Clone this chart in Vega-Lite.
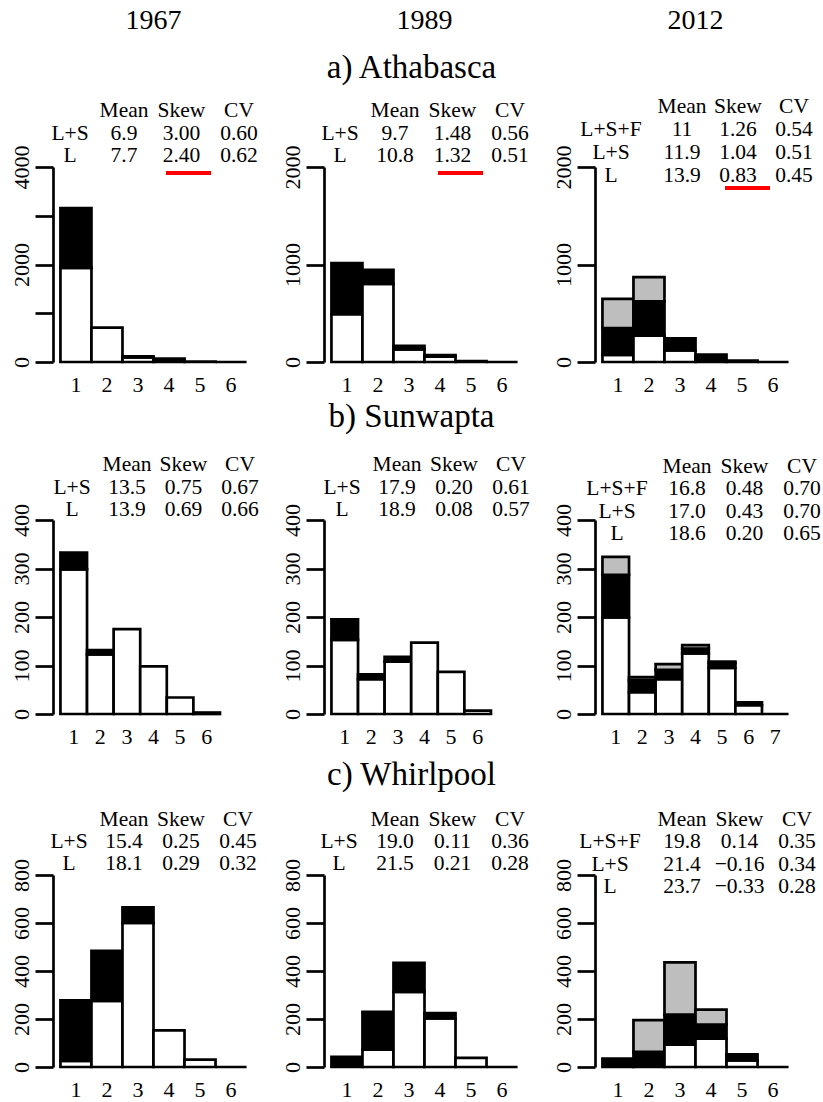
{
  "$schema": "https://vega.github.io/schema/vega-lite/v6.json",
  "padding": {"left": 10, "top": 0, "right": 4, "bottom": 4},
  "background": "white",
  "config": {
    "font": "Liberation Serif",
    "view": {"stroke": null},
    "axis": {"labelFont": "Liberation Serif", "labelFontSize": 22, "labelColor": "black", "domainColor": "black", "tickColor": "black", "domainWidth": 2.7, "tickWidth": 2.7, "grid": false, "labelOverlap": false},
    "axisX": {"domain": false, "ticks": false, "labelPadding": 12, "labelAngle": 0},
    "axisY": {"tickSize": 18, "labelAngle": 270, "labelPadding": 2, "format": "d"},
    "text": {"font": "Liberation Serif", "fontSize": 21.5, "color": "black"}
  },
  "datasets": {
    "blank": [{"t": ""}],
    "skew_mark": [{"row": "L", "col": "Skew"}],
    "bars_a1967": [
      {"bin": 1, "cat": "L", "lvl": 1, "n": 1930}, {"bin": 1, "cat": "S", "lvl": 2, "n": 1225},
      {"bin": 2, "cat": "L", "lvl": 1, "n": 705},
      {"bin": 3, "cat": "L", "lvl": 1, "n": 95}, {"bin": 3, "cat": "S", "lvl": 2, "n": 20},
      {"bin": 4, "cat": "L", "lvl": 1, "n": 40}, {"bin": 4, "cat": "S", "lvl": 2, "n": 30},
      {"bin": 5, "cat": "L", "lvl": 1, "n": 10},
      {"bin": 6, "cat": "L", "lvl": 1, "n": 0}
    ],
    "bars_a1989": [
      {"bin": 1, "cat": "L", "lvl": 1, "n": 490}, {"bin": 1, "cat": "S", "lvl": 2, "n": 525},
      {"bin": 2, "cat": "L", "lvl": 1, "n": 800}, {"bin": 2, "cat": "S", "lvl": 2, "n": 145},
      {"bin": 3, "cat": "L", "lvl": 1, "n": 130}, {"bin": 3, "cat": "S", "lvl": 2, "n": 35},
      {"bin": 4, "cat": "L", "lvl": 1, "n": 55}, {"bin": 4, "cat": "S", "lvl": 2, "n": 15},
      {"bin": 5, "cat": "L", "lvl": 1, "n": 8},
      {"bin": 6, "cat": "L", "lvl": 1, "n": 0}
    ],
    "bars_a2012": [
      {"bin": 1, "cat": "L", "lvl": 1, "n": 72}, {"bin": 1, "cat": "S", "lvl": 2, "n": 276}, {"bin": 1, "cat": "F", "lvl": 3, "n": 299},
      {"bin": 2, "cat": "L", "lvl": 1, "n": 269}, {"bin": 2, "cat": "S", "lvl": 2, "n": 354}, {"bin": 2, "cat": "F", "lvl": 3, "n": 248},
      {"bin": 3, "cat": "L", "lvl": 1, "n": 120}, {"bin": 3, "cat": "S", "lvl": 2, "n": 122},
      {"bin": 4, "cat": "L", "lvl": 1, "n": 12}, {"bin": 4, "cat": "S", "lvl": 2, "n": 65},
      {"bin": 5, "cat": "L", "lvl": 1, "n": 3}, {"bin": 5, "cat": "S", "lvl": 2, "n": 12},
      {"bin": 6, "cat": "L", "lvl": 1, "n": 0}
    ],
    "bars_b1967": [
      {"bin": 1, "cat": "L", "lvl": 1, "n": 298}, {"bin": 1, "cat": "S", "lvl": 2, "n": 35},
      {"bin": 2, "cat": "L", "lvl": 1, "n": 123}, {"bin": 2, "cat": "S", "lvl": 2, "n": 9},
      {"bin": 3, "cat": "L", "lvl": 1, "n": 175},
      {"bin": 4, "cat": "L", "lvl": 1, "n": 98},
      {"bin": 5, "cat": "L", "lvl": 1, "n": 34},
      {"bin": 6, "cat": "L", "lvl": 1, "n": 3}
    ],
    "bars_b1989": [
      {"bin": 1, "cat": "L", "lvl": 1, "n": 153}, {"bin": 1, "cat": "S", "lvl": 2, "n": 42},
      {"bin": 2, "cat": "L", "lvl": 1, "n": 72}, {"bin": 2, "cat": "S", "lvl": 2, "n": 10},
      {"bin": 3, "cat": "L", "lvl": 1, "n": 108}, {"bin": 3, "cat": "S", "lvl": 2, "n": 10},
      {"bin": 4, "cat": "L", "lvl": 1, "n": 147},
      {"bin": 5, "cat": "L", "lvl": 1, "n": 87},
      {"bin": 6, "cat": "L", "lvl": 1, "n": 7}
    ],
    "bars_b2012": [
      {"bin": 1, "cat": "L", "lvl": 1, "n": 199}, {"bin": 1, "cat": "S", "lvl": 2, "n": 88}, {"bin": 1, "cat": "F", "lvl": 3, "n": 37},
      {"bin": 2, "cat": "L", "lvl": 1, "n": 45}, {"bin": 2, "cat": "S", "lvl": 2, "n": 25}, {"bin": 2, "cat": "F", "lvl": 3, "n": 6},
      {"bin": 3, "cat": "L", "lvl": 1, "n": 72}, {"bin": 3, "cat": "S", "lvl": 2, "n": 19}, {"bin": 3, "cat": "F", "lvl": 3, "n": 12},
      {"bin": 4, "cat": "L", "lvl": 1, "n": 125}, {"bin": 4, "cat": "S", "lvl": 2, "n": 10}, {"bin": 4, "cat": "F", "lvl": 3, "n": 7},
      {"bin": 5, "cat": "L", "lvl": 1, "n": 95}, {"bin": 5, "cat": "S", "lvl": 2, "n": 10}, {"bin": 5, "cat": "F", "lvl": 3, "n": 3},
      {"bin": 6, "cat": "L", "lvl": 1, "n": 18}, {"bin": 6, "cat": "S", "lvl": 2, "n": 6},
      {"bin": 7, "cat": "L", "lvl": 1, "n": 0}
    ],
    "bars_c1967": [
      {"bin": 1, "cat": "L", "lvl": 1, "n": 25}, {"bin": 1, "cat": "S", "lvl": 2, "n": 253},
      {"bin": 2, "cat": "L", "lvl": 1, "n": 275}, {"bin": 2, "cat": "S", "lvl": 2, "n": 209},
      {"bin": 3, "cat": "L", "lvl": 1, "n": 600}, {"bin": 3, "cat": "S", "lvl": 2, "n": 65},
      {"bin": 4, "cat": "L", "lvl": 1, "n": 153},
      {"bin": 5, "cat": "L", "lvl": 1, "n": 31},
      {"bin": 6, "cat": "L", "lvl": 1, "n": 0}
    ],
    "bars_c1989": [
      {"bin": 1, "cat": "S", "lvl": 2, "n": 42},
      {"bin": 2, "cat": "L", "lvl": 1, "n": 72}, {"bin": 2, "cat": "S", "lvl": 2, "n": 158},
      {"bin": 3, "cat": "L", "lvl": 1, "n": 313}, {"bin": 3, "cat": "S", "lvl": 2, "n": 121},
      {"bin": 4, "cat": "L", "lvl": 1, "n": 202}, {"bin": 4, "cat": "S", "lvl": 2, "n": 23},
      {"bin": 5, "cat": "L", "lvl": 1, "n": 38},
      {"bin": 6, "cat": "L", "lvl": 1, "n": 0}
    ],
    "bars_c2012": [
      {"bin": 1, "cat": "S", "lvl": 2, "n": 35},
      {"bin": 2, "cat": "L", "lvl": 1, "n": 7}, {"bin": 2, "cat": "S", "lvl": 2, "n": 56}, {"bin": 2, "cat": "F", "lvl": 3, "n": 132},
      {"bin": 3, "cat": "L", "lvl": 1, "n": 93}, {"bin": 3, "cat": "S", "lvl": 2, "n": 125}, {"bin": 3, "cat": "F", "lvl": 3, "n": 218},
      {"bin": 4, "cat": "L", "lvl": 1, "n": 118}, {"bin": 4, "cat": "S", "lvl": 2, "n": 59}, {"bin": 4, "cat": "F", "lvl": 3, "n": 62},
      {"bin": 5, "cat": "L", "lvl": 1, "n": 28}, {"bin": 5, "cat": "S", "lvl": 2, "n": 25},
      {"bin": 6, "cat": "L", "lvl": 1, "n": 0}
    ],
    "tab_a1967": [
      {"row": "head", "col": "Mean", "txt": "Mean"}, {"row": "head", "col": "Skew", "txt": "Skew"}, {"row": "head", "col": "CV", "txt": "CV"},
      {"row": "L+S", "col": "lab", "txt": "L+S"}, {"row": "L+S", "col": "Mean", "txt": "6.9"}, {"row": "L+S", "col": "Skew", "txt": "3.00"}, {"row": "L+S", "col": "CV", "txt": "0.60"},
      {"row": "L", "col": "lab", "txt": "L"}, {"row": "L", "col": "Mean", "txt": "7.7"}, {"row": "L", "col": "Skew", "txt": "2.40"}, {"row": "L", "col": "CV", "txt": "0.62"}
    ],
    "tab_a1989": [
      {"row": "head", "col": "Mean", "txt": "Mean"}, {"row": "head", "col": "Skew", "txt": "Skew"}, {"row": "head", "col": "CV", "txt": "CV"},
      {"row": "L+S", "col": "lab", "txt": "L+S"}, {"row": "L+S", "col": "Mean", "txt": "9.7"}, {"row": "L+S", "col": "Skew", "txt": "1.48"}, {"row": "L+S", "col": "CV", "txt": "0.56"},
      {"row": "L", "col": "lab", "txt": "L"}, {"row": "L", "col": "Mean", "txt": "10.8"}, {"row": "L", "col": "Skew", "txt": "1.32"}, {"row": "L", "col": "CV", "txt": "0.51"}
    ],
    "tab_a2012": [
      {"row": "head", "col": "Mean", "txt": "Mean"}, {"row": "head", "col": "Skew", "txt": "Skew"}, {"row": "head", "col": "CV", "txt": "CV"},
      {"row": "L+S+F", "col": "lab", "txt": "L+S+F"}, {"row": "L+S+F", "col": "Mean", "txt": "11"}, {"row": "L+S+F", "col": "Skew", "txt": "1.26"}, {"row": "L+S+F", "col": "CV", "txt": "0.54"},
      {"row": "L+S", "col": "lab", "txt": "L+S"}, {"row": "L+S", "col": "Mean", "txt": "11.9"}, {"row": "L+S", "col": "Skew", "txt": "1.04"}, {"row": "L+S", "col": "CV", "txt": "0.51"},
      {"row": "L", "col": "lab", "txt": "L"}, {"row": "L", "col": "Mean", "txt": "13.9"}, {"row": "L", "col": "Skew", "txt": "0.83"}, {"row": "L", "col": "CV", "txt": "0.45"}
    ],
    "tab_b1967": [
      {"row": "head", "col": "Mean", "txt": "Mean"}, {"row": "head", "col": "Skew", "txt": "Skew"}, {"row": "head", "col": "CV", "txt": "CV"},
      {"row": "L+S", "col": "lab", "txt": "L+S"}, {"row": "L+S", "col": "Mean", "txt": "13.5"}, {"row": "L+S", "col": "Skew", "txt": "0.75"}, {"row": "L+S", "col": "CV", "txt": "0.67"},
      {"row": "L", "col": "lab", "txt": "L"}, {"row": "L", "col": "Mean", "txt": "13.9"}, {"row": "L", "col": "Skew", "txt": "0.69"}, {"row": "L", "col": "CV", "txt": "0.66"}
    ],
    "tab_b1989": [
      {"row": "head", "col": "Mean", "txt": "Mean"}, {"row": "head", "col": "Skew", "txt": "Skew"}, {"row": "head", "col": "CV", "txt": "CV"},
      {"row": "L+S", "col": "lab", "txt": "L+S"}, {"row": "L+S", "col": "Mean", "txt": "17.9"}, {"row": "L+S", "col": "Skew", "txt": "0.20"}, {"row": "L+S", "col": "CV", "txt": "0.61"},
      {"row": "L", "col": "lab", "txt": "L"}, {"row": "L", "col": "Mean", "txt": "18.9"}, {"row": "L", "col": "Skew", "txt": "0.08"}, {"row": "L", "col": "CV", "txt": "0.57"}
    ],
    "tab_b2012": [
      {"row": "head", "col": "Mean", "txt": "Mean"}, {"row": "head", "col": "Skew", "txt": "Skew"}, {"row": "head", "col": "CV", "txt": "CV"},
      {"row": "L+S+F", "col": "lab", "txt": "L+S+F"}, {"row": "L+S+F", "col": "Mean", "txt": "16.8"}, {"row": "L+S+F", "col": "Skew", "txt": "0.48"}, {"row": "L+S+F", "col": "CV", "txt": "0.70"},
      {"row": "L+S", "col": "lab", "txt": "L+S"}, {"row": "L+S", "col": "Mean", "txt": "17.0"}, {"row": "L+S", "col": "Skew", "txt": "0.43"}, {"row": "L+S", "col": "CV", "txt": "0.70"},
      {"row": "L", "col": "lab", "txt": "L"}, {"row": "L", "col": "Mean", "txt": "18.6"}, {"row": "L", "col": "Skew", "txt": "0.20"}, {"row": "L", "col": "CV", "txt": "0.65"}
    ],
    "tab_c1967": [
      {"row": "head", "col": "Mean", "txt": "Mean"}, {"row": "head", "col": "Skew", "txt": "Skew"}, {"row": "head", "col": "CV", "txt": "CV"},
      {"row": "L+S", "col": "lab", "txt": "L+S"}, {"row": "L+S", "col": "Mean", "txt": "15.4"}, {"row": "L+S", "col": "Skew", "txt": "0.25"}, {"row": "L+S", "col": "CV", "txt": "0.45"},
      {"row": "L", "col": "lab", "txt": "L"}, {"row": "L", "col": "Mean", "txt": "18.1"}, {"row": "L", "col": "Skew", "txt": "0.29"}, {"row": "L", "col": "CV", "txt": "0.32"}
    ],
    "tab_c1989": [
      {"row": "head", "col": "Mean", "txt": "Mean"}, {"row": "head", "col": "Skew", "txt": "Skew"}, {"row": "head", "col": "CV", "txt": "CV"},
      {"row": "L+S", "col": "lab", "txt": "L+S"}, {"row": "L+S", "col": "Mean", "txt": "19.0"}, {"row": "L+S", "col": "Skew", "txt": "0.11"}, {"row": "L+S", "col": "CV", "txt": "0.36"},
      {"row": "L", "col": "lab", "txt": "L"}, {"row": "L", "col": "Mean", "txt": "21.5"}, {"row": "L", "col": "Skew", "txt": "0.21"}, {"row": "L", "col": "CV", "txt": "0.28"}
    ],
    "tab_c2012": [
      {"row": "head", "col": "Mean", "txt": "Mean"}, {"row": "head", "col": "Skew", "txt": "Skew"}, {"row": "head", "col": "CV", "txt": "CV"},
      {"row": "L+S+F", "col": "lab", "txt": "L+S+F"}, {"row": "L+S+F", "col": "Mean", "txt": "19.8"}, {"row": "L+S+F", "col": "Skew", "txt": "0.14"}, {"row": "L+S+F", "col": "CV", "txt": "0.35"},
      {"row": "L+S", "col": "lab", "txt": "L+S"}, {"row": "L+S", "col": "Mean", "txt": "21.4"}, {"row": "L+S", "col": "Skew", "txt": "−0.16"}, {"row": "L+S", "col": "CV", "txt": "0.34"},
      {"row": "L", "col": "lab", "txt": "L"}, {"row": "L", "col": "Mean", "txt": "23.7"}, {"row": "L", "col": "Skew", "txt": "−0.33"}, {"row": "L", "col": "CV", "txt": "0.28"}
    ]
  },
  "columns": 3,
  "spacing": {"row": 0, "column": 70},
  "bounds": "flush",
  "concat": [
    {"width": 201, "height": 42, "data": {"values": [{"t": "1967"}]}, "mark": {"type": "text", "fontSize": 28, "baseline": "middle"}, "encoding": {"text": {"field": "t"}}},
    {"width": 201, "height": 42, "data": {"values": [{"t": "1989"}]}, "mark": {"type": "text", "fontSize": 28, "baseline": "middle"}, "encoding": {"text": {"field": "t"}}},
    {"width": 201, "height": 42, "data": {"values": [{"t": "2012"}]}, "mark": {"type": "text", "fontSize": 28, "baseline": "middle"}, "encoding": {"text": {"field": "t"}}},

    {"width": 201, "height": 125, "data": {"name": "blank"}, "mark": {"type": "text"}, "encoding": {"text": {"field": "t"}}},
    {"width": 201, "height": 125, "data": {"values": [{"t": "a) Athabasca"}]}, "mark": {"type": "text", "fontSize": 33, "baseline": "middle", "dx": -13, "dy": -37}, "encoding": {"text": {"field": "t"}}},
    {"width": 201, "height": 125, "data": {"name": "blank"}, "mark": {"type": "text"}, "encoding": {"text": {"field": "t"}}},

    {
      "width": 201, "height": 195,
      "layer": [
        {"data": {"name": "bars_a1967"}, "mark": {"type": "bar", "stroke": "black", "strokeWidth": 2.7},
         "encoding": {
           "x": {"field": "bin", "type": "ordinal", "scale": {"type": "band", "domain": [1,2,3,4,5,6], "paddingInner": 0, "paddingOuter": 0.24}, "axis": {"title": null, "labelAngle": 0}},
           "y": {"field": "n", "type": "quantitative", "stack": "zero", "scale": {"domain": [0, 4000], "nice": false}, "axis": {"title": null, "values": [0,1000,2000,3000,4000], "labelExpr": "datum.value % 2000 === 0 ? datum.label : ''", "labelAngle": 270}},
           "fill": {"field": "cat", "type": "nominal", "scale": {"domain": ["L","S","F"], "range": ["#ffffff","#000000","#bebebe"]}, "legend": null},
           "order": {"field": "lvl", "type": "quantitative"}}},
        {"data": {"name": "tab_a1967"}, "transform": [{"filter": "datum.col === 'lab'"}], "mark": {"type": "text", "baseline": "middle"},
         "encoding": {
           "x": {"field": "col", "type": "nominal", "scale": {"type": "point", "padding": 0, "range": [17, 17]}, "axis": null},
           "y": {"field": "row", "type": "nominal", "scale": {"type": "point", "padding": 0, "domain": ["head","L+S","L"], "range": [-56, -11]}, "axis": null},
           "text": {"field": "txt"}}},
        {"data": {"name": "tab_a1967"}, "transform": [{"filter": "datum.col !== 'lab'"}], "mark": {"type": "text", "baseline": "middle"},
         "encoding": {
           "x": {"field": "col", "type": "nominal", "scale": {"type": "point", "padding": 0, "domain": ["Mean","Skew","CV"], "range": [71, 186]}, "axis": null},
           "y": {"field": "row", "type": "nominal", "scale": {"type": "point", "padding": 0, "domain": ["head","L+S","L"], "range": [-56, -11]}, "axis": null},
           "text": {"field": "txt"}}},
        {"data": {"name": "skew_mark"}, "mark": {"type": "tick", "orient": "horizontal", "color": "#ff0000", "opacity": 1, "size": 45, "thickness": 4, "yOffset": 17},
         "encoding": {
           "x": {"field": "col", "type": "nominal", "scale": {"type": "point", "padding": 0, "range": [135.5, 135.5]}, "axis": null},
           "y": {"field": "row", "type": "nominal", "scale": {"type": "point", "padding": 0, "domain": ["head","L+S","L"], "range": [-56, -11]}, "axis": null}}}
      ],
      "resolve": {"scale": {"x": "independent", "y": "independent"}}
    },
    {
      "width": 201, "height": 195,
      "layer": [
        {"data": {"name": "bars_a1989"}, "mark": {"type": "bar", "stroke": "black", "strokeWidth": 2.7},
         "encoding": {
           "x": {"field": "bin", "type": "ordinal", "scale": {"type": "band", "domain": [1,2,3,4,5,6], "paddingInner": 0, "paddingOuter": 0.24}, "axis": {"title": null, "labelAngle": 0}},
           "y": {"field": "n", "type": "quantitative", "stack": "zero", "scale": {"domain": [0, 2000], "nice": false}, "axis": {"title": null, "values": [0,1000,2000], "labelAngle": 270}},
           "fill": {"field": "cat", "type": "nominal", "scale": {"domain": ["L","S","F"], "range": ["#ffffff","#000000","#bebebe"]}, "legend": null},
           "order": {"field": "lvl", "type": "quantitative"}}},
        {"data": {"name": "tab_a1989"}, "transform": [{"filter": "datum.col === 'lab'"}], "mark": {"type": "text", "baseline": "middle"},
         "encoding": {
           "x": {"field": "col", "type": "nominal", "scale": {"type": "point", "padding": 0, "range": [16, 16]}, "axis": null},
           "y": {"field": "row", "type": "nominal", "scale": {"type": "point", "padding": 0, "domain": ["head","L+S","L"], "range": [-56, -11]}, "axis": null},
           "text": {"field": "txt"}}},
        {"data": {"name": "tab_a1989"}, "transform": [{"filter": "datum.col !== 'lab'"}], "mark": {"type": "text", "baseline": "middle"},
         "encoding": {
           "x": {"field": "col", "type": "nominal", "scale": {"type": "point", "padding": 0, "domain": ["Mean","Skew","CV"], "range": [71, 186]}, "axis": null},
           "y": {"field": "row", "type": "nominal", "scale": {"type": "point", "padding": 0, "domain": ["head","L+S","L"], "range": [-56, -11]}, "axis": null},
           "text": {"field": "txt"}}},
        {"data": {"name": "skew_mark"}, "mark": {"type": "tick", "orient": "horizontal", "color": "#ff0000", "opacity": 1, "size": 45, "thickness": 4, "yOffset": 17},
         "encoding": {
           "x": {"field": "col", "type": "nominal", "scale": {"type": "point", "padding": 0, "range": [136.5, 136.5]}, "axis": null},
           "y": {"field": "row", "type": "nominal", "scale": {"type": "point", "padding": 0, "domain": ["head","L+S","L"], "range": [-56, -11]}, "axis": null}}}
      ],
      "resolve": {"scale": {"x": "independent", "y": "independent"}}
    },
    {
      "width": 201, "height": 195,
      "layer": [
        {"data": {"name": "bars_a2012"}, "mark": {"type": "bar", "stroke": "black", "strokeWidth": 2.7},
         "encoding": {
           "x": {"field": "bin", "type": "ordinal", "scale": {"type": "band", "domain": [1,2,3,4,5,6], "paddingInner": 0, "paddingOuter": 0.24}, "axis": {"title": null, "labelAngle": 0}},
           "y": {"field": "n", "type": "quantitative", "stack": "zero", "scale": {"domain": [0, 2000], "nice": false}, "axis": {"title": null, "values": [0,1000,2000], "labelAngle": 270}},
           "fill": {"field": "cat", "type": "nominal", "scale": {"domain": ["L","S","F"], "range": ["#ffffff","#000000","#bebebe"]}, "legend": null},
           "order": {"field": "lvl", "type": "quantitative"}}},
        {"data": {"name": "tab_a2012"}, "transform": [{"filter": "datum.col === 'lab'"}], "mark": {"type": "text", "baseline": "middle"},
         "encoding": {
           "x": {"field": "col", "type": "nominal", "scale": {"type": "point", "padding": 0, "range": [16, 16]}, "axis": null},
           "y": {"field": "row", "type": "nominal", "scale": {"type": "point", "padding": 0, "domain": ["head","L+S+F","L+S","L"], "range": [-60, 9]}, "axis": null},
           "text": {"field": "txt"}}},
        {"data": {"name": "tab_a2012"}, "transform": [{"filter": "datum.col !== 'lab'"}], "mark": {"type": "text", "baseline": "middle"},
         "encoding": {
           "x": {"field": "col", "type": "nominal", "scale": {"type": "point", "padding": 0, "domain": ["Mean","Skew","CV"], "range": [87, 199]}, "axis": null},
           "y": {"field": "row", "type": "nominal", "scale": {"type": "point", "padding": 0, "domain": ["head","L+S+F","L+S","L"], "range": [-60, 9]}, "axis": null},
           "text": {"field": "txt"}}},
        {"data": {"name": "skew_mark"}, "mark": {"type": "tick", "orient": "horizontal", "color": "#ff0000", "opacity": 1, "size": 45, "thickness": 4, "yOffset": 12},
         "encoding": {
           "x": {"field": "col", "type": "nominal", "scale": {"type": "point", "padding": 0, "range": [152.5, 152.5]}, "axis": null},
           "y": {"field": "row", "type": "nominal", "scale": {"type": "point", "padding": 0, "domain": ["head","L+S+F","L+S","L"], "range": [-60, 9]}, "axis": null}}}
      ],
      "resolve": {"scale": {"x": "independent", "y": "independent"}}
    },

    {"width": 201, "height": 158, "data": {"name": "blank"}, "mark": {"type": "text"}, "encoding": {"text": {"field": "t"}}},
    {"width": 201, "height": 158, "data": {"values": [{"t": "b) Sunwapta"}]}, "mark": {"type": "text", "fontSize": 33, "baseline": "middle", "dx": -13, "dy": -24}, "encoding": {"text": {"field": "t"}}},
    {"width": 201, "height": 158, "data": {"name": "blank"}, "mark": {"type": "text"}, "encoding": {"text": {"field": "t"}}},

    {
      "width": 201, "height": 194,
      "layer": [
        {"data": {"name": "bars_b1967"}, "mark": {"type": "bar", "stroke": "black", "strokeWidth": 2.7},
         "encoding": {
           "x": {"field": "bin", "type": "ordinal", "scale": {"type": "band", "domain": [1,2,3,4,5,6,7], "paddingInner": 0, "paddingOuter": 0.28}, "axis": {"title": null, "labelAngle": 0, "values": [1,2,3,4,5,6]}},
           "y": {"field": "n", "type": "quantitative", "stack": "zero", "scale": {"domain": [0, 400], "nice": false}, "axis": {"title": null, "values": [0,100,200,300,400], "labelAngle": 270}},
           "fill": {"field": "cat", "type": "nominal", "scale": {"domain": ["L","S","F"], "range": ["#ffffff","#000000","#bebebe"]}, "legend": null},
           "order": {"field": "lvl", "type": "quantitative"}}},
        {"data": {"name": "tab_b1967"}, "transform": [{"filter": "datum.col === 'lab'"}], "mark": {"type": "text", "baseline": "middle"},
         "encoding": {
           "x": {"field": "col", "type": "nominal", "scale": {"type": "point", "padding": 0, "range": [19, 19]}, "axis": null},
           "y": {"field": "row", "type": "nominal", "scale": {"type": "point", "padding": 0, "domain": ["head","L+S","L"], "range": [-55, -10]}, "axis": null},
           "text": {"field": "txt"}}},
        {"data": {"name": "tab_b1967"}, "transform": [{"filter": "datum.col !== 'lab'"}], "mark": {"type": "text", "baseline": "middle"},
         "encoding": {
           "x": {"field": "col", "type": "nominal", "scale": {"type": "point", "padding": 0, "domain": ["Mean","Skew","CV"], "range": [74, 187]}, "axis": null},
           "y": {"field": "row", "type": "nominal", "scale": {"type": "point", "padding": 0, "domain": ["head","L+S","L"], "range": [-55, -10]}, "axis": null},
           "text": {"field": "txt"}}}
      ],
      "resolve": {"scale": {"x": "independent", "y": "independent"}}
    },
    {
      "width": 201, "height": 194,
      "layer": [
        {"data": {"name": "bars_b1989"}, "mark": {"type": "bar", "stroke": "black", "strokeWidth": 2.7},
         "encoding": {
           "x": {"field": "bin", "type": "ordinal", "scale": {"type": "band", "domain": [1,2,3,4,5,6,7], "paddingInner": 0, "paddingOuter": 0.28}, "axis": {"title": null, "labelAngle": 0, "values": [1,2,3,4,5,6]}},
           "y": {"field": "n", "type": "quantitative", "stack": "zero", "scale": {"domain": [0, 400], "nice": false}, "axis": {"title": null, "values": [0,100,200,300,400], "labelAngle": 270}},
           "fill": {"field": "cat", "type": "nominal", "scale": {"domain": ["L","S","F"], "range": ["#ffffff","#000000","#bebebe"]}, "legend": null},
           "order": {"field": "lvl", "type": "quantitative"}}},
        {"data": {"name": "tab_b1989"}, "transform": [{"filter": "datum.col === 'lab'"}], "mark": {"type": "text", "baseline": "middle"},
         "encoding": {
           "x": {"field": "col", "type": "nominal", "scale": {"type": "point", "padding": 0, "range": [18, 18]}, "axis": null},
           "y": {"field": "row", "type": "nominal", "scale": {"type": "point", "padding": 0, "domain": ["head","L+S","L"], "range": [-55, -10]}, "axis": null},
           "text": {"field": "txt"}}},
        {"data": {"name": "tab_b1989"}, "transform": [{"filter": "datum.col !== 'lab'"}], "mark": {"type": "text", "baseline": "middle"},
         "encoding": {
           "x": {"field": "col", "type": "nominal", "scale": {"type": "point", "padding": 0, "domain": ["Mean","Skew","CV"], "range": [73, 187]}, "axis": null},
           "y": {"field": "row", "type": "nominal", "scale": {"type": "point", "padding": 0, "domain": ["head","L+S","L"], "range": [-55, -10]}, "axis": null},
           "text": {"field": "txt"}}}
      ],
      "resolve": {"scale": {"x": "independent", "y": "independent"}}
    },
    {
      "width": 201, "height": 194,
      "layer": [
        {"data": {"name": "bars_b2012"}, "mark": {"type": "bar", "stroke": "black", "strokeWidth": 2.7},
         "encoding": {
           "x": {"field": "bin", "type": "ordinal", "scale": {"type": "band", "domain": [1,2,3,4,5,6,7], "paddingInner": 0, "paddingOuter": 0.28}, "axis": {"title": null, "labelAngle": 0}},
           "y": {"field": "n", "type": "quantitative", "stack": "zero", "scale": {"domain": [0, 400], "nice": false}, "axis": {"title": null, "values": [0,100,200,300,400], "labelAngle": 270}},
           "fill": {"field": "cat", "type": "nominal", "scale": {"domain": ["L","S","F"], "range": ["#ffffff","#000000","#bebebe"]}, "legend": null},
           "order": {"field": "lvl", "type": "quantitative"}}},
        {"data": {"name": "tab_b2012"}, "transform": [{"filter": "datum.col === 'lab'"}], "mark": {"type": "text", "baseline": "middle"},
         "encoding": {
           "x": {"field": "col", "type": "nominal", "scale": {"type": "point", "padding": 0, "range": [22, 22]}, "axis": null},
           "y": {"field": "row", "type": "nominal", "scale": {"type": "point", "padding": 0, "domain": ["head","L+S+F","L+S","L"], "range": [-53, 14]}, "axis": null},
           "text": {"field": "txt"}}},
        {"data": {"name": "tab_b2012"}, "transform": [{"filter": "datum.col !== 'lab'"}], "mark": {"type": "text", "baseline": "middle"},
         "encoding": {
           "x": {"field": "col", "type": "nominal", "scale": {"type": "point", "padding": 0, "domain": ["Mean","Skew","CV"], "range": [92, 207]}, "axis": null},
           "y": {"field": "row", "type": "nominal", "scale": {"type": "point", "padding": 0, "domain": ["head","L+S+F","L+S","L"], "range": [-53, 14]}, "axis": null},
           "text": {"field": "txt"}}}
      ],
      "resolve": {"scale": {"x": "independent", "y": "independent"}}
    },

    {"width": 201, "height": 161, "data": {"name": "blank"}, "mark": {"type": "text"}, "encoding": {"text": {"field": "t"}}},
    {"width": 201, "height": 161, "data": {"values": [{"t": "c) Whirlpool"}]}, "mark": {"type": "text", "fontSize": 33, "baseline": "middle", "dx": -13, "dy": -20}, "encoding": {"text": {"field": "t"}}},
    {"width": 201, "height": 161, "data": {"name": "blank"}, "mark": {"type": "text"}, "encoding": {"text": {"field": "t"}}},

    {
      "width": 201, "height": 192,
      "layer": [
        {"data": {"name": "bars_c1967"}, "mark": {"type": "bar", "stroke": "black", "strokeWidth": 2.7},
         "encoding": {
           "x": {"field": "bin", "type": "ordinal", "scale": {"type": "band", "domain": [1,2,3,4,5,6], "paddingInner": 0, "paddingOuter": 0.24}, "axis": {"title": null, "labelAngle": 0}},
           "y": {"field": "n", "type": "quantitative", "stack": "zero", "scale": {"domain": [0, 800], "nice": false}, "axis": {"title": null, "values": [0,200,400,600,800], "labelAngle": 270}},
           "fill": {"field": "cat", "type": "nominal", "scale": {"domain": ["L","S","F"], "range": ["#ffffff","#000000","#bebebe"]}, "legend": null},
           "order": {"field": "lvl", "type": "quantitative"}}},
        {"data": {"name": "tab_c1967"}, "transform": [{"filter": "datum.col === 'lab'"}], "mark": {"type": "text", "baseline": "middle"},
         "encoding": {
           "x": {"field": "col", "type": "nominal", "scale": {"type": "point", "padding": 0, "range": [16, 16]}, "axis": null},
           "y": {"field": "row", "type": "nominal", "scale": {"type": "point", "padding": 0, "domain": ["head","L+S","L"], "range": [-55, -11]}, "axis": null},
           "text": {"field": "txt"}}},
        {"data": {"name": "tab_c1967"}, "transform": [{"filter": "datum.col !== 'lab'"}], "mark": {"type": "text", "baseline": "middle"},
         "encoding": {
           "x": {"field": "col", "type": "nominal", "scale": {"type": "point", "padding": 0, "domain": ["Mean","Skew","CV"], "range": [71, 185]}, "axis": null},
           "y": {"field": "row", "type": "nominal", "scale": {"type": "point", "padding": 0, "domain": ["head","L+S","L"], "range": [-55, -11]}, "axis": null},
           "text": {"field": "txt"}}}
      ],
      "resolve": {"scale": {"x": "independent", "y": "independent"}}
    },
    {
      "width": 201, "height": 192,
      "layer": [
        {"data": {"name": "bars_c1989"}, "mark": {"type": "bar", "stroke": "black", "strokeWidth": 2.7},
         "encoding": {
           "x": {"field": "bin", "type": "ordinal", "scale": {"type": "band", "domain": [1,2,3,4,5,6], "paddingInner": 0, "paddingOuter": 0.24}, "axis": {"title": null, "labelAngle": 0}},
           "y": {"field": "n", "type": "quantitative", "stack": "zero", "scale": {"domain": [0, 800], "nice": false}, "axis": {"title": null, "values": [0,200,400,600,800], "labelAngle": 270}},
           "fill": {"field": "cat", "type": "nominal", "scale": {"domain": ["L","S","F"], "range": ["#ffffff","#000000","#bebebe"]}, "legend": null},
           "order": {"field": "lvl", "type": "quantitative"}}},
        {"data": {"name": "tab_c1989"}, "transform": [{"filter": "datum.col === 'lab'"}], "mark": {"type": "text", "baseline": "middle"},
         "encoding": {
           "x": {"field": "col", "type": "nominal", "scale": {"type": "point", "padding": 0, "range": [15, 15]}, "axis": null},
           "y": {"field": "row", "type": "nominal", "scale": {"type": "point", "padding": 0, "domain": ["head","L+S","L"], "range": [-55, -11]}, "axis": null},
           "text": {"field": "txt"}}},
        {"data": {"name": "tab_c1989"}, "transform": [{"filter": "datum.col !== 'lab'"}], "mark": {"type": "text", "baseline": "middle"},
         "encoding": {
           "x": {"field": "col", "type": "nominal", "scale": {"type": "point", "padding": 0, "domain": ["Mean","Skew","CV"], "range": [71, 186]}, "axis": null},
           "y": {"field": "row", "type": "nominal", "scale": {"type": "point", "padding": 0, "domain": ["head","L+S","L"], "range": [-55, -11]}, "axis": null},
           "text": {"field": "txt"}}}
      ],
      "resolve": {"scale": {"x": "independent", "y": "independent"}}
    },
    {
      "width": 201, "height": 192,
      "layer": [
        {"data": {"name": "bars_c2012"}, "mark": {"type": "bar", "stroke": "black", "strokeWidth": 2.7},
         "encoding": {
           "x": {"field": "bin", "type": "ordinal", "scale": {"type": "band", "domain": [1,2,3,4,5,6], "paddingInner": 0, "paddingOuter": 0.24}, "axis": {"title": null, "labelAngle": 0}},
           "y": {"field": "n", "type": "quantitative", "stack": "zero", "scale": {"domain": [0, 800], "nice": false}, "axis": {"title": null, "values": [0,200,400,600,800], "labelAngle": 270}},
           "fill": {"field": "cat", "type": "nominal", "scale": {"domain": ["L","S","F"], "range": ["#ffffff","#000000","#bebebe"]}, "legend": null},
           "order": {"field": "lvl", "type": "quantitative"}}},
        {"data": {"name": "tab_c2012"}, "transform": [{"filter": "datum.col === 'lab'"}], "mark": {"type": "text", "baseline": "middle"},
         "encoding": {
           "x": {"field": "col", "type": "nominal", "scale": {"type": "point", "padding": 0, "range": [15, 15]}, "axis": null},
           "y": {"field": "row", "type": "nominal", "scale": {"type": "point", "padding": 0, "domain": ["head","L+S+F","L+S","L"], "range": [-55, 12]}, "axis": null},
           "text": {"field": "txt"}}},
        {"data": {"name": "tab_c2012"}, "transform": [{"filter": "datum.col !== 'lab'"}], "mark": {"type": "text", "baseline": "middle"},
         "encoding": {
           "x": {"field": "col", "type": "nominal", "scale": {"type": "point", "padding": 0, "domain": ["Mean","Skew","CV"], "range": [87, 202]}, "axis": null},
           "y": {"field": "row", "type": "nominal", "scale": {"type": "point", "padding": 0, "domain": ["head","L+S+F","L+S","L"], "range": [-55, 12]}, "axis": null},
           "text": {"field": "txt"}}}
      ],
      "resolve": {"scale": {"x": "independent", "y": "independent"}}
    }
  ]
}
